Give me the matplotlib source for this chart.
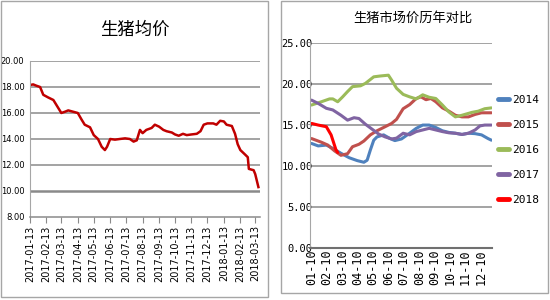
import numpy as np
import pandas as pd
import matplotlib
matplotlib.use("Agg")
import matplotlib.pyplot as plt
from matplotlib.patches import Rectangle

plt.rcParams['font.family'] = ['Noto Sans CJK SC', 'DejaVu Sans']

# left chart: average hog price 2017-01 .. 2018-03
avg_dates = ["2017-01-13", "2017-01-19", "2017-01-25", "2017-02-01", "2017-02-07",
             "2017-02-16", "2017-02-26", "2017-03-04", "2017-03-13", "2017-03-20",
             "2017-03-26", "2017-04-04", "2017-04-13", "2017-04-20", "2017-04-26",
             "2017-05-06", "2017-05-13", "2017-05-21", "2017-05-28", "2017-06-03",
             "2017-06-07", "2017-06-13", "2017-06-22", "2017-07-01", "2017-07-11",
             "2017-07-20", "2017-07-27", "2017-08-02", "2017-08-08", "2017-08-13",
             "2017-08-20", "2017-08-30", "2017-09-05", "2017-09-13", "2017-09-21",
             "2017-09-27", "2017-10-07", "2017-10-13", "2017-10-20", "2017-10-28",
             "2017-11-04", "2017-11-13", "2017-11-23", "2017-11-30", "2017-12-06",
             "2017-12-13", "2017-12-24", "2017-12-30", "2018-01-06", "2018-01-13",
             "2018-01-18", "2018-01-28", "2018-02-03", "2018-02-08", "2018-02-13",
             "2018-02-22", "2018-02-27", "2018-03-01", "2018-03-10", "2018-03-13",
             "2018-03-16", "2018-03-19"]
avg_price = [18.15, 18.2, 18.1, 18.0, 17.4, 17.2, 17.0, 16.6, 16.0, 16.1,
             16.2, 16.1, 16.0, 15.5, 15.1, 14.9, 14.3, 14.0, 13.4, 13.15,
             13.4, 14.0, 13.95, 14.0, 14.05, 14.0, 13.8, 13.9, 14.7, 14.45,
             14.7, 14.85, 15.1, 14.95, 14.7, 14.6, 14.5, 14.35, 14.25, 14.4,
             14.3, 14.35, 14.4, 14.6, 15.1, 15.2, 15.2, 15.1, 15.4, 15.35,
             15.1, 15.0, 14.4, 13.6, 13.15, 12.8, 12.6, 11.7, 11.6, 11.3,
             10.8, 10.3]
left_ticks = pd.date_range("2017-01-13", periods=15, freq=pd.DateOffset(months=1))

# right chart: yearly comparison, x in months from 01-10
month_labels = ["01-10", "02-10", "03-10", "04-10", "05-10", "06-10",
                "07-10", "08-10", "09-10", "10-10", "11-10", "12-10"]
years = ["2014", "2015", "2016", "2017", "2018"]
colors = ["#4F81BD", "#C0504D", "#9BBB59", "#8064A2", "#FF0000"]

x2014 = [0, 0.43, 0.96, 1.38, 1.91, 2.45, 2.97, 3.4, 3.61, 3.82, 4.04, 4.25, 4.68,
         5.1, 5.41, 5.84, 6.37, 6.8, 7.22, 7.64, 8.07, 8.5, 8.92, 9.34, 9.77,
         10.19, 10.62, 11.04, 11.46, 11.68]
y2014 = [12.75, 12.45, 12.55, 12.15, 11.55, 11.0, 10.65, 10.45, 10.7, 11.95, 13.15,
         13.55, 13.8, 13.35, 13.1, 13.3, 14.0, 14.6, 15.0, 15.0, 14.7, 14.3, 14.1,
         14.0, 13.85, 14.0, 13.95, 13.8, 13.35, 13.15]
x2015 = [0, 0.64, 1.06, 1.49, 1.91, 2.34, 2.66, 3.08, 3.4, 3.82, 4.25, 4.78, 5.2,
         5.52, 5.95, 6.37, 6.8, 7.11, 7.43, 7.75, 8.07, 8.5, 8.92, 9.34, 9.77,
         10.19, 10.62, 11.04, 11.68]
y2015 = [13.35, 12.9, 12.55, 11.85, 11.3, 11.5, 12.35, 12.65, 13.05, 13.8, 14.3,
         14.8, 15.2, 15.7, 17.0, 17.5, 18.25, 18.45, 18.1, 18.25, 17.85, 17.1, 16.7,
         16.2, 16.0, 16.0, 16.3, 16.5, 16.5]
x2016 = [0, 0.64, 1.17, 1.38, 1.7, 2.02, 2.34, 2.66, 3.18, 3.5, 4.04, 4.46, 4.99,
         5.2, 5.52, 5.95, 6.37, 6.8, 7.22, 7.64, 8.07, 8.5, 8.92, 9.34, 9.77,
         10.41, 10.83, 11.25, 11.68]
y2016 = [17.45, 17.85, 18.2, 18.2, 17.85, 18.45, 19.1, 19.7, 19.8, 20.1, 20.9,
         21.0, 21.1, 20.5, 19.5, 18.75, 18.45, 18.2, 18.7, 18.4, 18.25, 17.45, 16.6,
         16.0, 16.2, 16.55, 16.7, 17.0, 17.1]
x2017 = [0, 0.43, 0.96, 1.38, 1.91, 2.34, 2.76, 3.08, 3.5, 3.93, 4.36, 4.78, 5.2,
         5.52, 5.95, 6.37, 6.8, 7.22, 7.64, 8.07, 8.5, 8.92, 9.34, 9.77, 10.19,
         10.62, 10.94, 11.25, 11.68]
y2017 = [18.05, 17.65, 17.05, 16.85, 16.2, 15.6, 15.9, 15.8, 15.1, 14.5, 13.9,
         13.55, 13.3, 13.4, 14.0, 13.8, 14.2, 14.4, 14.6, 14.4, 14.2, 14.05, 14.0,
         13.85, 14.0, 14.4, 14.9, 15.0, 15.0]
x2018 = [0, 0.43, 0.96, 1.27, 1.59, 1.7]
y2018 = [15.2, 15.0, 14.8, 13.8, 11.95, 11.65]

grid_c = "#8a8a8a"
frame_c = "#a6a6a6"

fig = plt.figure(figsize=(5.5, 3), dpi=100)

# panel frames
fig.patches.append(Rectangle((1 / 550, 3 / 300), 267 / 550, 296 / 300, transform=fig.transFigure,
                             fill=False, edgecolor=frame_c, linewidth=1))
fig.patches.append(Rectangle((281 / 550, 7 / 300), 267 / 550, 292 / 300, transform=fig.transFigure,
                             fill=False, edgecolor=frame_c, linewidth=1))

# ---- left chart
ax1 = fig.add_axes([30 / 550, 1 - 217 / 300, 230 / 550, 156 / 300])
ax1.plot(pd.to_datetime(avg_dates), avg_price, color="#C00000", linewidth=1.8)
ax1.set_ylim(8, 20)
ax1.set_yticks(np.arange(8, 21, 2))
ax1.set_yticklabels([f"{v:.2f}" for v in np.arange(8, 21, 2)], fontsize=6,
                    family='DejaVu Sans')
ax1.set_xlim(pd.Timestamp("2017-01-13"), pd.Timestamp("2018-03-22"))
ax1.set_xticks(left_ticks)
ax1.set_xticklabels([d.strftime("%Y-%m-%d") for d in left_ticks], rotation=90,
                    fontsize=7, family='DejaVu Sans')
for v in range(10, 21, 2):
    ax1.axhline(v, color=grid_c, linewidth=1.8 if v == 10 else 1.1, zorder=0)
for s in ["top", "right"]:
    ax1.spines[s].set_visible(False)
ax1.spines["left"].set_color(frame_c)
ax1.spines["bottom"].set_color(grid_c)
ax1.spines["bottom"].set_linewidth(1.1)
ax1.tick_params(axis="y", length=0, pad=4)
ax1.tick_params(axis="x", length=4, color=grid_c, pad=2)
fig.text(135 / 550, 1 - 30 / 300, "生猪均价", ha="center", va="center", fontsize=12.5,
         fontweight="medium")

# ---- right chart
ax2 = fig.add_axes([310 / 550, 1 - 247.7 / 300, 181.7 / 550, 204.4 / 300])
series_x = [x2014, x2015, x2016, x2017, x2018]
series_y = [y2014, y2015, y2016, y2017, y2018]
for xs, ys, c, lab in zip(series_x, series_y, colors, years):
    ax2.plot(xs, ys, color=c, linewidth=2.2, label=lab, solid_capstyle="round")
ax2.set_ylim(0, 25)
ax2.set_xlim(-0.1, 11.7)
ax2.set_yticks(np.arange(0, 26, 5))
ax2.set_yticklabels([f"{v:.2f}" for v in np.arange(0, 26, 5)], fontsize=7.5,
                    family='DejaVu Sans Mono')
ax2.set_xticks(range(12))
ax2.set_xticklabels(month_labels, rotation=90, fontsize=8.5, family='DejaVu Sans Mono')
for v in range(5, 26, 5):
    ax2.axhline(v, color=grid_c, linewidth=1.1, zorder=0)
for s in ["top", "right"]:
    ax2.spines[s].set_visible(False)
ax2.spines["left"].set_color(frame_c)
ax2.spines["bottom"].set_color("#707070")
ax2.spines["bottom"].set_linewidth(1.5)
ax2.tick_params(axis="y", length=0, pad=-2)
ax2.tick_params(axis="x", length=0, pad=1)
leg = ax2.legend(loc="upper left", bbox_to_anchor=(1.0, 0.78), frameon=False,
                 prop={'family': 'DejaVu Sans Mono', 'size': 8},
                 handlelength=1.0, handletextpad=0.2, labelspacing=1.35, borderaxespad=0.2)
for h in leg.get_lines():
    h.set_linewidth(3.5)
fig.text(413 / 550, 1 - 18 / 300, "生猪市场价历年对比", ha="center", va="center", fontsize=9.5)

fig.savefig("out.png", dpi=100)
